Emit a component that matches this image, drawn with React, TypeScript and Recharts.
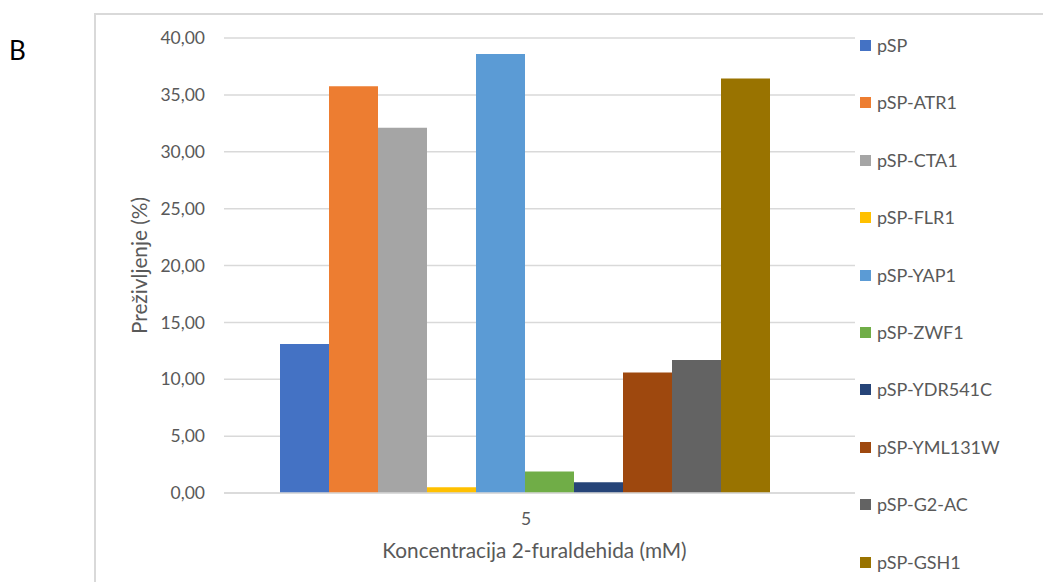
import { BarChart, Bar, XAxis, YAxis, CartesianGrid } from 'recharts';

const categories = ['5'];
const seriesNames = [
  'pSP', 'pSP-ATR1', 'pSP-CTA1', 'pSP-FLR1', 'pSP-YAP1',
  'pSP-ZWF1', 'pSP-YDR541C', 'pSP-YML131W', 'pSP-G2-AC', 'pSP-GSH1',
];
const seriesValues = [13.1, 35.75, 32.1, 0.5, 38.6, 1.9, 0.95, 10.6, 11.7, 36.45];
const seriesColors = [
  '#4472C4', '#ED7D31', '#A5A5A5', '#FFC000', '#5B9BD5',
  '#70AD47', '#264478', '#9E480E', '#636363', '#997300',
];
const yTicks = [0, 5, 10, 15, 20, 25, 30, 35, 40];

const data = categories.map((c) => {
  const row: Record<string, string | number> = { name: c };
  seriesNames.forEach((s, i) => { row[s] = seriesValues[i]; });
  return row;
});

const FONT = 'Lato, "Open Sans", sans-serif';
const TEXT = '#595959';

const LegendBox = () => (
  <div style={{ position: 'absolute', left: 860, top: 34, fontFamily: FONT }}>
    {seriesNames.map((s, i) => (
      <div key={s} style={{ height: 57.4, display: 'flex', alignItems: 'flex-start' }}>
        <span
          style={{
            width: 11, height: 11, background: seriesColors[i],
            marginTop: 6, marginRight: 6, flexShrink: 0,
          }}
        />
        <span style={{ color: TEXT, fontSize: 18, lineHeight: '22px', whiteSpace: 'nowrap' }}>{s}</span>
      </div>
    ))}
  </div>
);

export default function App() {
  return (
    <div style={{ position: 'absolute', left: 0, top: 0, width: 1043, height: 582, overflow: 'hidden', background: '#fff' }}>
      <div
        style={{
          position: 'absolute', left: 94, top: 13, width: 1000, height: 620,
          borderLeft: '2px solid #d9d9d9', borderTop: '2px solid #d9d9d9',
        }}
      />
      <div style={{ position: 'absolute', left: 9, top: 34, fontFamily: FONT, fontSize: 26, color: '#000' }}>B</div>
      <div style={{ position: 'absolute', left: 0, top: 0 }}>
        <BarChart
          width={1043}
          height={582}
          data={data}
          margin={{ top: 38, right: 188, left: 120, bottom: 0 }}
          barGap={0}
          barCategoryGap={56}
        >
          <CartesianGrid vertical={false} stroke="#d9d9d9" strokeWidth={1.5} />
          <XAxis
            dataKey="name"
            height={89}
            padding={{ left: 0, right: 27 }}
            axisLine={{ stroke: '#d9d9d9', strokeWidth: 1.5 }}
            tickLine={false}
            tickMargin={14}
            tick={{ fill: TEXT, fontSize: 17.5, fontFamily: FONT }}
            label={{
              value: 'Koncentracija 2-furaldehida (mM)',
              position: 'insideBottom',
              offset: 24,
              dx: -5,
              style: { fill: TEXT, fontSize: 20.8, fontFamily: FONT },
            }}
          />
          <YAxis
            width={104}
            domain={[0, 40]}
            ticks={yTicks}
            axisLine={false}
            tickLine={false}
            tickMargin={13}
            tick={{ fill: TEXT, fontSize: 17.5, fontFamily: FONT }}
            tickFormatter={(v) => v.toFixed(2).replace('.', ',')}
            label={{
              value: 'Preživljenje (%)',
              angle: -90,
              position: 'insideLeft',
              offset: 20,
              style: { textAnchor: 'middle', fill: TEXT, fontSize: 20.8, fontFamily: FONT },
            }}
          />
          {seriesNames.map((s, i) => (
            <Bar key={s} dataKey={s} fill={seriesColors[i]} isAnimationActive={false} />
          ))}
        </BarChart>
      </div>
      <LegendBox />
    </div>
  );
}
